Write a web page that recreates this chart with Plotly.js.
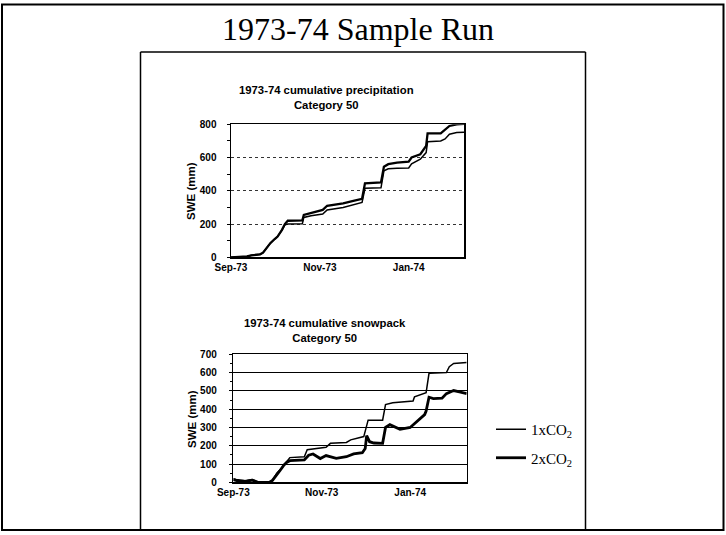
<!DOCTYPE html>
<html>
<head>
<meta charset="utf-8">
<script src="https://cdn.plot.ly/plotly-3.0.1.min.js"></script>
<style>html,body{margin:0;padding:0;background:#fff;}#chart{width:726px;height:535px;}</style>
</head>
<body>
<div id="chart"></div>
<script>
// ---- Data ----
var precipDates = ['1973-09-01','1973-09-12','1973-09-15','1973-09-21','1973-09-23','1973-09-25','1973-09-28','1973-10-01','1973-10-03','1973-10-06','1973-10-08','1973-10-10','1973-10-20','1973-10-21','1973-10-26','1973-11-03','1973-11-06','1973-11-17','1973-11-24','1973-11-30','1973-12-02','1973-12-13','1973-12-15','1973-12-18','1973-12-24','1974-01-01','1974-01-03','1974-01-09','1974-01-13','1974-01-14','1974-01-23','1974-01-26','1974-01-29','1974-02-03','1974-02-08'];
var precip1x = [0,5,12,18,28,50,85,110,125,163,195,200,202,240,250,260,285,300,318,330,415,418,520,532,535,537,562,590,630,695,700,712,740,750,752];
var precip2x = [0,5,12,18,28,50,85,110,125,165,200,220,222,255,265,285,310,325,340,352,445,450,545,560,570,575,600,620,670,745,745,770,790,800,802];

var snowDates1x = ['1973-09-01','1973-09-03','1973-09-09','1973-09-14','1973-09-17','1973-09-21','1973-09-26','1973-09-28','1973-10-01','1973-10-03','1973-10-06','1973-10-08','1973-10-10','1973-10-20','1973-10-22','1973-11-04','1973-11-07','1973-11-18','1973-11-21','1973-11-30','1973-12-02','1973-12-03','1973-12-13','1973-12-15','1973-12-20','1974-01-03','1974-01-04','1974-01-12','1974-01-14','1974-01-26','1974-01-28','1974-01-31','1974-02-09'];
var snow1x = [20,15,8,15,5,0,0,10,50,65,95,115,135,140,178,192,213,218,232,250,320,340,340,425,435,445,468,490,596,600,632,650,655];

var snowDates2x = ['1973-09-01','1973-09-04','1973-09-10','1973-09-14','1973-09-18','1973-09-26','1973-09-28','1973-10-01','1973-10-03','1973-10-06','1973-10-08','1973-10-10','1973-10-20','1973-10-23','1973-10-26','1973-10-31','1973-11-04','1973-11-11','1973-11-18','1973-11-23','1973-11-29','1973-12-01','1973-12-02','1973-12-04','1973-12-07','1973-12-13','1973-12-15','1973-12-18','1973-12-25','1974-01-01','1974-01-04','1974-01-11','1974-01-12','1974-01-14','1974-01-17','1974-01-23','1974-01-26','1974-01-31','1974-02-04','1974-02-09'];
var snow2x = [15,8,5,12,0,0,10,45,62,95,110,118,122,148,155,130,146,131,140,155,162,185,255,222,215,213,300,315,290,300,320,370,390,465,458,460,485,502,495,485];

var xTickVals = ['1973-09-01','1973-11-01','1974-01-01'];
var xTickText = ['Sep-73','Nov-73','Jan-74'];
var seriesNames = ['1xCO<sub>2</sub>','2xCO<sub>2</sub>'];
var mainTitle = '1973-74 Sample Run';
var topTitle = '1973-74 cumulative precipitation<br>Category 50';
var botTitle = '1973-74 cumulative snowpack<br>Category 50';
var yLabel = 'SWE (mm)';

// ---- Layout helpers (pixel -> paper) ----
var W = 726, H = 535;
function px(x){ return x / W; }
function py(y){ return 1 - y / H; }

var tickFont = {family: 'Liberation Sans, Arial, sans-serif', size: 10, color: '#000', weight: 'bold'};

var traces = [
  {x: precipDates, y: precip1x, xaxis: 'x', yaxis: 'y', mode: 'lines', line: {color: '#000', width: 1.5}, showlegend: false, name: seriesNames[0], hoverinfo: 'skip'},
  {x: precipDates, y: precip2x, xaxis: 'x', yaxis: 'y', mode: 'lines', line: {color: '#000', width: 2.3}, showlegend: false, name: seriesNames[1], hoverinfo: 'skip'},
  {x: snowDates1x, y: snow1x, xaxis: 'x2', yaxis: 'y2', mode: 'lines', line: {color: '#000', width: 1.5}, showlegend: true, name: seriesNames[0], legendgroup: 'a', hoverinfo: 'skip'},
  {x: snowDates2x, y: snow2x, xaxis: 'x2', yaxis: 'y2', mode: 'lines', line: {color: '#000', width: 2.8}, showlegend: true, name: seriesNames[1], legendgroup: 'b', hoverinfo: 'skip'}
];

var xCommon = {
  type: 'date', tickvals: xTickVals, ticktext: xTickText, tickfont: tickFont,
  showline: true, linecolor: '#000', linewidth: 1.5, mirror: true,
  showgrid: false, zeroline: false, ticks: '', fixedrange: true
};

var layout = {
  width: W, height: H,
  margin: {l: 0, r: 0, t: 0, b: 0},
  paper_bgcolor: '#fff', plot_bgcolor: '#fff',
  showlegend: true,
  legend: {
    x: px(491), y: py(413), xanchor: 'left', yanchor: 'top',
    font: {family: 'Liberation Serif, Times New Roman, serif', size: 15, color: '#000'},
    itemwidth: 30, tracegroupgap: 6, bgcolor: 'rgba(0,0,0,0)'
  },
  xaxis: Object.assign({}, xCommon, {domain: [px(231), px(464)], range: ['1973-09-01', '1974-02-08'], anchor: 'y'}),
  yaxis: {
    domain: [py(257.3), py(124.3)], range: [0, 800], tickvals: [0, 200, 400, 600, 800],
    tickfont: tickFont, showline: true, linecolor: '#000', linewidth: 1.5, mirror: true,
    showgrid: true, gridcolor: '#333', griddash: 'dot', gridwidth: 1,
    ticks: 'outside', ticklen: 3, tickcolor: '#000', ticklabelstandoff: 8,
    minor: {dtick: 100, ticks: 'outside', ticklen: 3, tickcolor: '#000', showgrid: false},
    zeroline: false, anchor: 'x', fixedrange: true
  },
  xaxis2: Object.assign({}, xCommon, {domain: [px(233.3), px(466.7)], range: ['1973-09-01', '1974-02-09'], anchor: 'y2'}),
  yaxis2: {
    domain: [py(482.3), py(354.3)], range: [0, 700], dtick: 100,
    tickfont: tickFont, showline: true, linecolor: '#000', linewidth: 1.5, mirror: true,
    showgrid: true, gridcolor: '#000', gridwidth: 1,
    ticks: 'outside', ticklen: 3, tickcolor: '#000', ticklabelstandoff: 10,
    minor: {dtick: 50, ticks: 'outside', ticklen: 2, tickcolor: '#000', showgrid: false},
    zeroline: false, anchor: 'x2', fixedrange: true
  },
  annotations: [
    {text: mainTitle, xref: 'paper', yref: 'paper', x: px(358), y: py(29), xanchor: 'center', yanchor: 'middle', showarrow: false,
     font: {family: 'Liberation Serif, Times New Roman, serif', size: 32, color: '#000'}},
    {text: topTitle, xref: 'paper', yref: 'paper', x: px(326), y: py(98), xanchor: 'center', yanchor: 'middle', showarrow: false,
     font: {family: 'Liberation Sans, Arial, sans-serif', size: 11.3, color: '#000', weight: 'bold'}},
    {text: botTitle, xref: 'paper', yref: 'paper', x: px(325), y: py(330), xanchor: 'center', yanchor: 'middle', showarrow: false,
     font: {family: 'Liberation Sans, Arial, sans-serif', size: 11.3, color: '#000', weight: 'bold'}},
    {text: yLabel, xref: 'paper', yref: 'paper', x: px(191), y: py(191), xanchor: 'center', yanchor: 'middle', textangle: -90, showarrow: false,
     font: {family: 'Liberation Sans, Arial, sans-serif', size: 11.5, color: '#000', weight: 'bold'}},
    {text: yLabel, xref: 'paper', yref: 'paper', x: px(192), y: py(419), xanchor: 'center', yanchor: 'middle', textangle: -90, showarrow: false,
     font: {family: 'Liberation Sans, Arial, sans-serif', size: 11.5, color: '#000', weight: 'bold'}}
  ],
  shapes: [
    // outer frame
    {type: 'rect', xref: 'paper', yref: 'paper', x0: px(2), x1: px(723.5), y0: py(530), y1: py(4.5), line: {color: '#000', width: 2}},
    // inner box (open at the bottom, meets the outer frame)
    {type: 'line', xref: 'paper', yref: 'paper', x0: px(140.5), x1: px(140.5), y0: py(530), y1: py(52), line: {color: '#000', width: 1.5}},
    {type: 'line', xref: 'paper', yref: 'paper', x0: px(140.5), x1: px(585.5), y0: py(52), y1: py(52), line: {color: '#000', width: 1.5}},
    {type: 'line', xref: 'paper', yref: 'paper', x0: px(585.5), x1: px(585.5), y0: py(52), y1: py(530), line: {color: '#000', width: 1.5}}
  ]
};

Plotly.newPlot('chart', traces, layout, {staticPlot: true, displayModeBar: false});
</script>
</body>
</html>
